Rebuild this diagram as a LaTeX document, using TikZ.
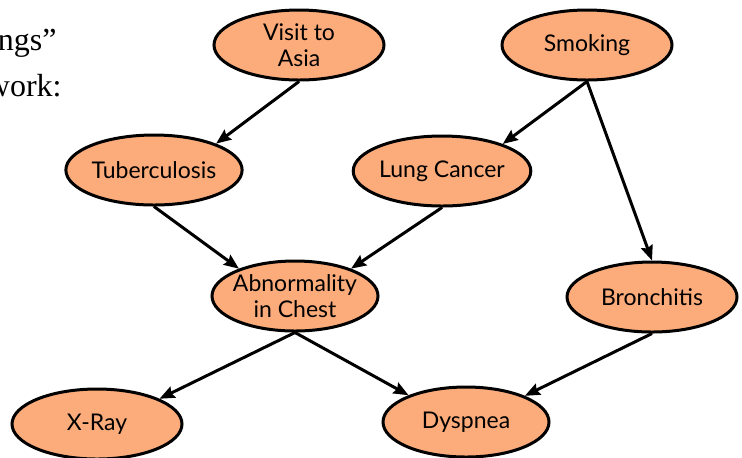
\documentclass[tikz,border=0pt]{standalone}
\usepackage{fontspec}
\setmainfont{Liberation Serif}
\newfontfamily\nodefont{Lato}
\usetikzlibrary{shapes.geometric, arrows.meta}
\definecolor{nodefill}{RGB}{252,172,123}

\begin{document}
\begin{tikzpicture}[x = 0.5pt, y = -0.5pt,
	bnode/.style = {ellipse, draw = black, line width = 1.5pt, fill = nodefill,
		minimum width = 85pt, minimum height = 35pt, inner sep = 0pt, align = center,
		font = \nodefont\fontsize{11.5}{12.8}\selectfont},
	link/.style = {line width = 1.5pt, -{Stealth[length = 7.5pt, width = 6pt, inset = 1pt]}}]

\useasboundingbox (0, 0) rectangle (742, 457);

\node[anchor = base east, inner sep = 0pt, font = \fontsize{16}{19}\selectfont] (TA) at (57, 50) {ngs”};
\node[anchor = base east, inner sep = 0pt, font = \fontsize{16}{19}\selectfont] (TB) at (62, 96) {work:};

\node[bnode] (VA) at (299, 45) {Visit to\\Asia};
\node[bnode] (SM) at (587, 45) {Smoking};
\node[bnode] (TU) at (154, 170) {Tuberculosis};
\node[bnode] (LC) at (442, 171) {Lung Cancer};
\node[bnode, inner xsep = -4pt, minimum width = 83pt] (AC) at (295, 296) {Abnormality\\in Chest};
\node[bnode] (BR) at (652, 297) {Bronchitis};
\node[bnode] (XR) at (97, 424) {X-Ray};
\node[bnode, minimum width = 83pt] (DY) at (466, 422) {Dyspnea};

\draw[link] (VA.south) -- (TU.23);

\draw[link] (SM.south) -- (LC.24);

\draw[link] (SM.south) -- (BR.north);

\draw[link] (TU.south) -- (AC.154);

\draw[link] (LC.south) -- (AC.26);

\draw[link] (AC.south) -- (XR.22);

\draw[link] (AC.south) -- (DY.155);

\draw[link] (BR.south) -- (DY.24);

\end{tikzpicture}
\end{document}
